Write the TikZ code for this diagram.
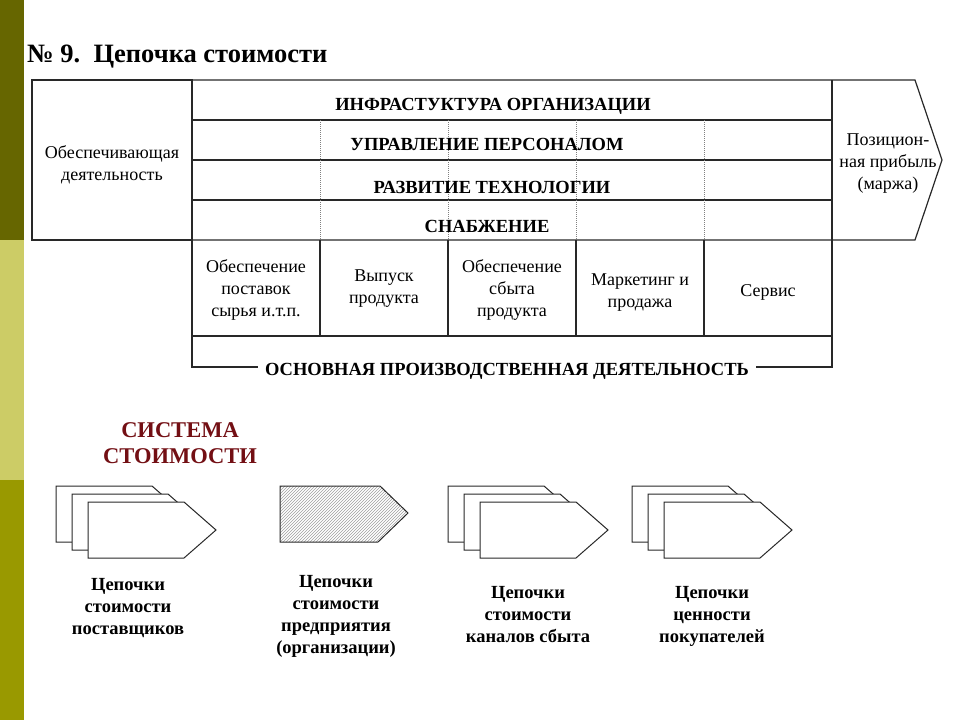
\documentclass[tikz,border=0pt]{standalone}
\usepackage{fontspec}
\setmainfont{Liberation Serif}
\usetikzlibrary{patterns}
\definecolor{stripeA}{RGB}{102,102,0}
\definecolor{stripeB}{RGB}{204,204,102}
\definecolor{stripeC}{RGB}{153,153,0}
\definecolor{sysred}{RGB}{115,15,20}
\definecolor{ln}{RGB}{40,40,40}
\begin{document}
\begin{tikzpicture}[x=1pt,y=-1pt,
  grid/.style={draw=ln, line width=1.2pt},
  dashv/.style={draw=gray, line width=0.8pt, dash pattern=on 1pt off 1pt},
  rowlab/.style={font=\fontsize{18.5}{21}\selectfont\bfseries, inner sep=0pt, anchor=base},
  celltxt/.style={font=\fontsize{18}{22}\selectfont, align=center, inner sep=0pt, anchor=base},
  chainlab/.style={font=\fontsize{18.5}{22}\selectfont\bfseries, align=center, inner sep=0pt, anchor=base},
  chev/.style={draw=ln, line width=1pt, fill=white},
  chevpic/.pic={\path[chev] (0,0) -- (96,0) -- (128,28) -- (96,56) -- (0,56) -- cycle;},
  hatchpic/.pic={\path[chev, pattern=north east lines, pattern color=gray!75] (0,0) -- (100,0) -- (128,27) -- (98,56) -- (0,56) -- cycle;}
]
\useasboundingbox (0,0) rectangle (960,720);
\fill[white] (0,0) rectangle (960,720);
% side stripe
\fill[stripeA] (0,0) rectangle (24,240);
\fill[stripeB] (0,240) rectangle (24,480);
\fill[stripeC] (0,480) rectangle (24,720);

% title
\node[anchor=base west, inner sep=0pt, font=\fontsize{26.5}{30}\selectfont\bfseries] (title) at (27,62) {№ 9.\ \ Цепочка стоимости};

% support activities grid
\draw[grid] (32,80) rectangle (192,240);
\draw[grid] (192,80) -- (915,80) -- (942,160) -- (915,240) -- (192,240);
\draw[grid] (192,120) -- (832,120);
\draw[grid] (192,160) -- (832,160);
\draw[grid] (192,200) -- (832,200);
\draw[grid] (832,80) -- (832,336);
\foreach \xx in {320,448,576,704} \draw[dashv] (\xx,120) -- (\xx,240);

% primary activities
\draw[grid] (192,240) -- (192,336) -- (832,336);
\foreach \xx in {320,448,576,704} \draw[grid] (\xx,240) -- (\xx,336);

% labels support (anchor base = last line baseline)
\node[celltxt] (supp) at (112,180) {Обеспечивающая\\деятельность};
\node[celltxt] (marg) at (888,189) {Позицион-\\ная прибыль\\(маржа)};
\node[rowlab] (r1) at (493,110) {ИНФРАСТУКТУРА ОРГАНИЗАЦИИ};
\node[rowlab] (r2) at (487,150) {УПРАВЛЕНИЕ ПЕРСОНАЛОМ};
\node[rowlab] (r3) at (492,193) {РАЗВИТИЕ ТЕХНОЛОГИИ};
\node[rowlab] (r4) at (487,232) {СНАБЖЕНИЕ};

% primary labels
\node[celltxt] (p1) at (256,316) {Обеспечение\\поставок\\сырья и.т.п.};
\node[celltxt] (p2) at (384,303) {Выпуск\\продукта};
\node[celltxt] (p3) at (512,316) {Обеспечение\\сбыта\\продукта};
\node[celltxt] (p4) at (640,307) {Маркетинг и\\продажа};
\node[celltxt] (p5) at (768,296) {Сервис};

% bracket
\node[rowlab, inner xsep=7pt] (base) at (507,375) {ОСНОВНАЯ ПРОИЗВОДСТВЕННАЯ ДЕЯТЕЛЬНОСТЬ};
\coordinate (bl) at (192,336);
\coordinate (br) at (832,336);
\draw[grid] (bl) |- ([yshift=8pt]base.base west);
\draw[grid] (br) |- ([yshift=8pt]base.base east);

% system
\node[font=\fontsize{22.5}{26}\selectfont\bfseries, text=sysred, align=center, inner sep=0pt, anchor=base] (sys) at (180,463) {СИСТЕМА\\СТОИМОСТИ};

% chains
\pic at (56,486) {chevpic};
\pic at (72,494) {chevpic};
\pic at (88,502) {chevpic};
\pic at (280,486) {hatchpic};
\pic at (448,486) {chevpic};
\pic at (464,494) {chevpic};
\pic at (480,502) {chevpic};
\pic at (632,486) {chevpic};
\pic at (648,494) {chevpic};
\pic at (664,502) {chevpic};

\node[chainlab] (l1) at (128,634) {Цепочки\\стоимости\\поставщиков};
\node[chainlab] (l2) at (336,653) {Цепочки\\стоимости\\предприятия\\(организации)};
\node[chainlab] (l3) at (528,642) {Цепочки\\стоимости\\каналов сбыта};
\node[chainlab] (l4) at (712,642) {Цепочки\\ценности\\покупателей};
\end{tikzpicture}
\end{document}
